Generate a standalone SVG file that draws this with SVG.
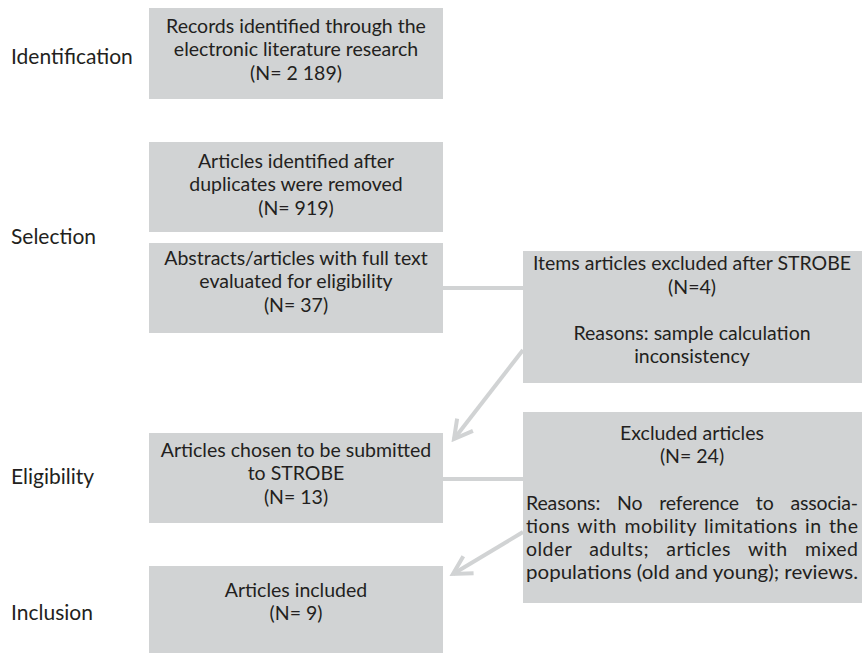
<svg xmlns="http://www.w3.org/2000/svg" width="862" height="653" viewBox="0 0 862 653">
<style>
.box{fill:#d1d3d4}
.t{font-family:Lato,"Open Sans","Liberation Sans",sans-serif;font-size:19.5px;fill:#231f20;text-anchor:middle}
.j{font-family:Lato,"Open Sans","Liberation Sans",sans-serif;font-size:19.5px;fill:#231f20;text-anchor:start}
.l{font-family:Lato,"Open Sans","Liberation Sans",sans-serif;font-size:21px;fill:#231f20}
.c{stroke:#d1d3d4;stroke-width:4;fill:none}
</style>
<defs>
<marker id="ah" markerUnits="userSpaceOnUse" markerWidth="24" markerHeight="24" refX="20" refY="12" orient="auto" viewBox="0 0 24 24">
<path d="M2,2 L20,12 L2,22" fill="none" stroke="#d1d3d4" stroke-width="4"/>
</marker>
</defs>
<rect width="862" height="653" fill="#fff"/>
<g id="stages">
<text class="l" x="11" y="64">Identification</text>
<text class="l" x="11" y="244">Selection</text>
<text class="l" x="11" y="484">Eligibility</text>
<text class="l" x="11" y="620">Inclusion</text>
</g>
<g id="connectors">
<line class="c" x1="443" y1="288" x2="523" y2="288"/>
<line class="c" x1="443" y1="479" x2="523" y2="479"/>
<line class="c" x1="523" y1="350" x2="454" y2="439" marker-end="url(#ah)"/>
<line class="c" x1="523" y1="532" x2="453" y2="574" marker-end="url(#ah)"/>
</g>
<g id="n1">
<rect class="box" x="149" y="8" width="294" height="91"/>
<text class="t" x="296" y="33">Records identified through the</text>
<text class="t" x="296" y="56">electronic literature research</text>
<text class="t" x="296" y="80">(N= 2 189)</text>
</g>
<g id="n2">
<rect class="box" x="149" y="142" width="294" height="90"/>
<text class="t" x="296" y="168">Articles identified after</text>
<text class="t" x="296" y="191">duplicates were removed</text>
<text class="t" x="296" y="215">(N= 919)</text>
</g>
<g id="n3">
<rect class="box" x="149" y="243" width="294" height="90"/>
<text class="t" x="296" y="265">Abstracts/articles with full text</text>
<text class="t" x="296" y="288">evaluated for eligibility</text>
<text class="t" x="296" y="312">(N= 37)</text>
</g>
<g id="n4">
<rect class="box" x="149" y="433" width="294" height="90"/>
<text class="t" x="296" y="457">Articles chosen to be submitted</text>
<text class="t" x="296" y="480">to STROBE</text>
<text class="t" x="296" y="504">(N= 13)</text>
</g>
<g id="n5">
<rect class="box" x="149" y="566" width="294" height="87"/>
<text class="t" x="296" y="597">Articles included</text>
<text class="t" x="296" y="620">(N= 9)</text>
</g>
<g id="n6">
<rect class="box" x="523" y="251" width="339" height="132"/>
<text class="t" x="692" y="270">Items articles excluded after STROBE</text>
<text class="t" x="692" y="294">(N=4)</text>
<text class="t" x="692" y="340">Reasons: sample calculation</text>
<text class="t" x="692" y="363">inconsistency</text>
</g>
<g id="n7">
<rect class="box" x="523" y="412" width="339" height="191"/>
<text class="t" x="692" y="440">Excluded articles</text>
<text class="t" x="692" y="463">(N= 24)</text>
<text class="j" x="526" y="510" style="word-spacing:12px" textLength="332" lengthAdjust="spacing">Reasons: No reference to associa-</text>
<text class="j" x="526" y="533" style="word-spacing:2px" textLength="332" lengthAdjust="spacing">tions with mobility limitations in the</text>
<text class="j" x="526" y="556" style="word-spacing:12px" textLength="332" lengthAdjust="spacing">older adults; articles with mixed</text>
<text class="j" x="526" y="579" textLength="332" lengthAdjust="spacingAndGlyphs">populations (old and young); reviews.</text>
</g>
</svg>
